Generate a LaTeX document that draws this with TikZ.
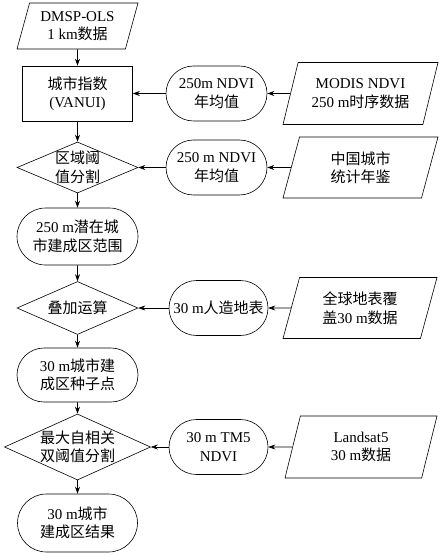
\documentclass[tikz,border=0pt]{standalone}
\usepackage{fontspec}
\setmainfont{Liberation Serif}
\newfontfamily\cjk{Noto Sans CJK SC}
\usetikzlibrary{shapes.geometric,shapes.misc,arrows.meta}
\begin{document}
\begin{tikzpicture}[x=1pt,y=-1pt,
    font=\fontsize{15}{18.5}\selectfont,
    every node/.style = {align=center, inner sep=0pt, line width=0.6pt},
    data/.style = {draw, trapezium, trapezium left angle=#1, trapezium right angle=180-#1, trapezium stretches body=true},
    data/.default = 63,
    proc/.style = {draw, rectangle},
    term/.style = {draw, rounded rectangle},
    deci/.style = {draw, diamond, label={[align=center]center:#1}},
    flow/.style = {-{Stealth[length=7pt,width=5pt]}, line width=0.6pt}]
    \useasboundingbox (0,0) rectangle (447,556);

    \node[data=67, minimum width=121pt, minimum height=46pt] (1) at (77.5,26) {DMSP-OLS\\1 km{\cjk 数据}};
    \node[proc, minimum width=110pt, minimum height=55pt] (2) at (77.5,93.5) {{\cjk 城市指数}\\(VANUI)};
    \node[term, minimum width=101pt, minimum height=55pt] (3) at (216.5,93.5) {250m NDVI\\{\cjk 年均值}};
    \node[data, minimum width=155pt, minimum height=62pt] (4) at (360.5,93.5) {MODIS NDVI\\250 m{\cjk 时序数据}};

    \node[deci={{\cjk 区域阈}\\{\cjk 值分割}}, minimum width=121pt, minimum height=51pt] (5) at (77.5,167.5) {};
    \node[term, minimum width=101pt, minimum height=55pt] (6) at (216.5,167.5) {250 m NDVI\\{\cjk 年均值}};
    \node[data, minimum width=155pt, minimum height=61pt] (7) at (360.5,167.5) {{\cjk 中国城市}\\{\cjk 统计年鉴}};

    \node[term, minimum width=121pt, minimum height=57pt] (8) at (77.5,236.5) {250 m{\cjk 潜在城}\\{\cjk 市建成区范围}};

    \node[deci={{\cjk 叠加运算}}, minimum width=121pt, minimum height=53pt] (9) at (77.5,308) {};
    \node[term, minimum width=99pt, minimum height=55pt] (10) at (218.5,308) {30 m{\cjk 人造地表}};
    \node[data, minimum width=154pt, minimum height=61pt] (11) at (360,308) {{\cjk 全球地表覆}\\{\cjk 盖}30 m{\cjk 数据}};

    \node[term, minimum width=121pt, minimum height=54pt] (12) at (77.5,375) {30 m{\cjk 城市建}\\{\cjk 成区种子点}};

    \node[deci={{\cjk 最大自相关}\\{\cjk 双阈值分割}}, minimum width=146pt, minimum height=66pt] (13) at (77.5,447) {};
    \node[term, minimum width=99pt, minimum height=55pt] (14) at (218.5,447) {30 m TM5\\NDVI};
    \node[data, minimum width=152pt, minimum height=62pt] (15) at (361,447) {Landsat5\\30 m{\cjk 数据}};

    \node[term, minimum width=120pt, minimum height=58pt] (16) at (77.5,523) {30 m{\cjk 城市}\\{\cjk 建成区结果}};

    % main column
    \draw[flow] (1) -- (2);
    \draw[flow] (2) -- (5);
    \draw[flow] (5) -- (8);
    \draw[flow] (8) -- (9);
    \draw[flow] (9) -- (12);
    \draw[flow] (12) -- (13);
    \draw[flow] (13) -- (16);
    % side inputs
    \draw[flow] (4) -- (3);
    \draw[flow] (3) -- (2);
    \draw[flow] (7) -- (6);
    \draw[flow] (6) -- (5);
    \draw[flow] (11) -- (10);
    \draw[flow] (10) -- (9);
    \draw[flow] (15) -- (14);
    \draw[flow] (14) -- (13);
\end{tikzpicture}
\end{document}
